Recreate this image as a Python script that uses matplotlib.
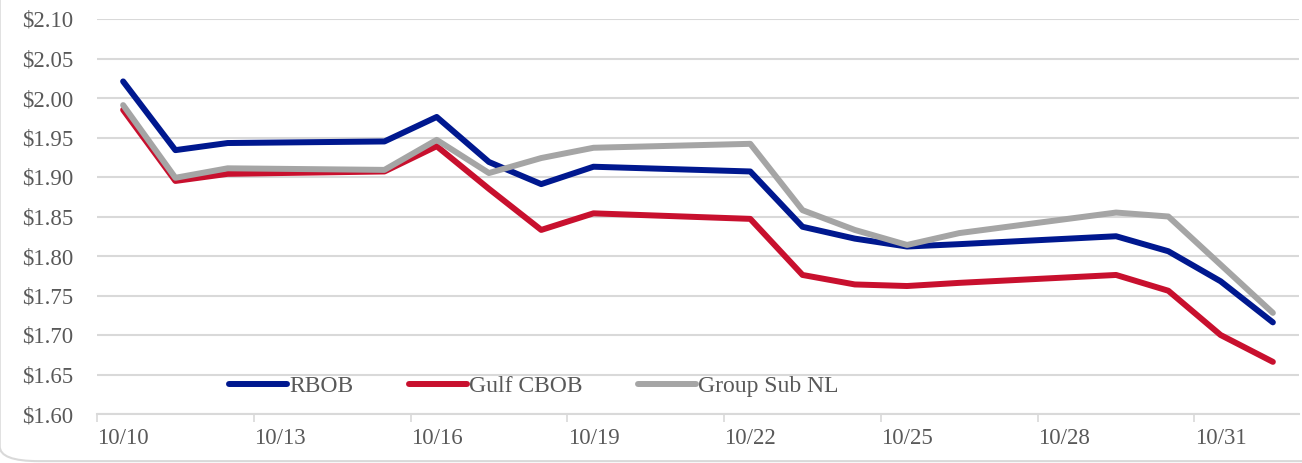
import numpy as np
import pandas as pd
import matplotlib
matplotlib.use("Agg")
import matplotlib.pyplot as plt
import matplotlib.dates as mdates
from matplotlib.patches import FancyBboxPatch

# datos (precio por galón)
fechas = pd.to_datetime([
    "2018-10-10", "2018-10-11", "2018-10-12", "2018-10-15", "2018-10-16",
    "2018-10-17", "2018-10-18", "2018-10-19", "2018-10-22", "2018-10-23",
    "2018-10-24", "2018-10-25", "2018-10-26", "2018-10-29", "2018-10-30",
    "2018-10-31", "2018-11-01"])
rbob = [2.021, 1.934, 1.943, 1.945, 1.976, 1.919, 1.891, 1.913, 1.907,
        1.837, 1.822, 1.812, 1.815, 1.825, 1.806, 1.768, 1.716]
gulf_cbob = [1.985, 1.895, 1.904, 1.907, 1.939, 1.885, 1.833, 1.854, 1.847,
             1.776, 1.764, 1.762, 1.766, 1.776, 1.756, 1.700, 1.666]
group_sub = [1.991, 1.899, 1.911, 1.909, 1.947, 1.905, 1.924, 1.937, 1.942,
             1.858, 1.833, 1.814, 1.829, 1.855, 1.850, 1.789, 1.728]
etiquetas_x = ["10/10", "10/13", "10/16", "10/19", "10/22", "10/25", "10/28", "10/31"]

gris_txt = "#595959"
gris_linea = "#d9d9d9"

plt.rcParams['font.family'] = ['Liberation Serif', 'DejaVu Serif']

fig = plt.figure(figsize=(13.02, 4.63), dpi=100)
ax = fig.add_axes([97/1302, 1 - 414/463, (1299 - 97)/1302, (414 - 19)/463])

# borde redondeado del gráfico (solo se ve la esquina inferior izquierda)
borde = FancyBboxPatch((-0.0002, 0.004), 1.2, 1.2, boxstyle="round,pad=0,rounding_size=0.03",
                       transform=fig.transFigure, fill=False, edgecolor=gris_linea,
                       linewidth=1.5, mutation_aspect=463/1302 * 3)
fig.patches.append(borde)

x = mdates.date2num(fechas)
ancho = 4.3
ax.plot(x, rbob, color="#00188f", linewidth=ancho, solid_capstyle="round",
        solid_joinstyle="round", label="RBOB")
ax.plot(x, gulf_cbob, color="#c8102e", linewidth=ancho, solid_capstyle="round",
        solid_joinstyle="round", label="Gulf CBOB")
ax.plot(x, group_sub, color="#a5a5a5", linewidth=ancho, solid_capstyle="round",
        solid_joinstyle="round", label="Group Sub NL")

x0 = x[0]
ax.set_xlim(x0 - 0.5, x[-1] + 0.5)
ax.set_ylim(1.60, 2.10)

# etiquetas centradas en el día, marcas en los bordes
pos_lab = x0 + 3 * np.arange(len(etiquetas_x))
ax.set_xticks(pos_lab - 0.5)
ax.set_xticklabels([])
ax.set_xticks(pos_lab, minor=True)
ax.set_xticklabels(etiquetas_x, minor=True)
ax.tick_params(axis="x", which="major", length=6, width=1.2, color=gris_linea, direction="out")
ax.tick_params(axis="x", which="minor", length=0, pad=10, labelsize=16.5, labelcolor=gris_txt)

yt = np.arange(1.60, 2.101, 0.05)
ax.set_yticks(yt)
ax.set_yticklabels([f"${v:.2f}" for v in yt])
ax.tick_params(axis="y", length=0, pad=17, labelsize=16.5, labelcolor=gris_txt)

ax.grid(axis="y", color=gris_linea, linewidth=1.5)
ax.set_axisbelow(True)
for s in ["top", "right", "left"]:
    ax.spines[s].set_visible(False)
ax.spines["bottom"].set_color(gris_linea)
ax.spines["bottom"].set_linewidth(1.5)

leg = ax.legend(loc="center left", bbox_to_anchor=(0.110, 0.07), ncol=3, frameon=False,
                fontsize=17, handlelength=2.45, handletextpad=0.1, columnspacing=2.35,
                borderpad=0, borderaxespad=0)
for t in leg.get_texts():
    t.set_color(gris_txt)
for h in leg.get_lines():
    h.set_solid_capstyle("round")

fig.savefig("out.png", dpi=100)
